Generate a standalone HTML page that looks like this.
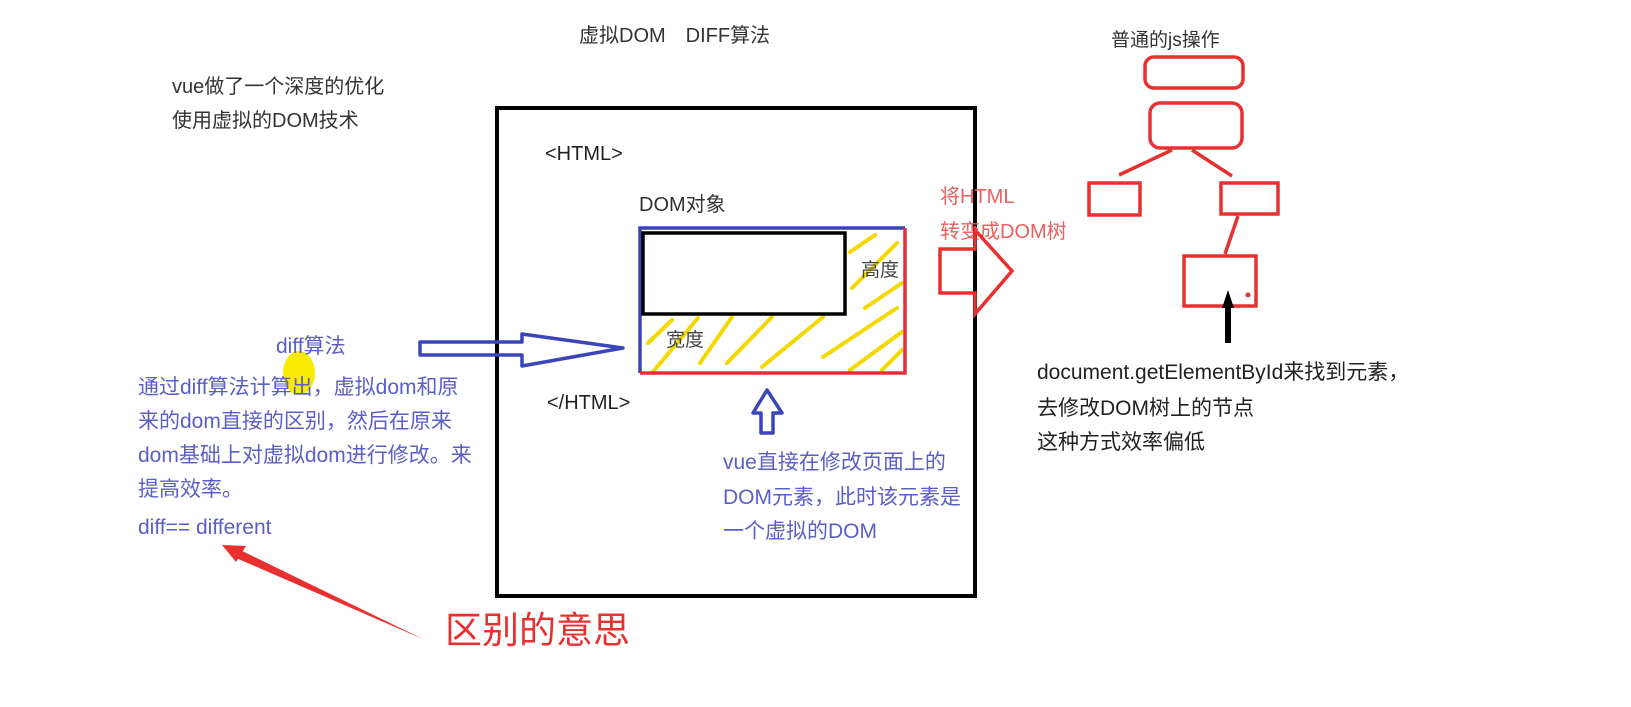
<!DOCTYPE html>
<html><head><meta charset="utf-8"><style>
html,body{margin:0;padding:0;background:#fff;}
svg{display:block;}
text{font-family:"Liberation Sans","Noto Sans CJK SC",sans-serif;}
</style></head><body>
<svg width="1631" height="707" viewBox="0 0 1631 707" xmlns="http://www.w3.org/2000/svg">
<!-- titles -->
<text x="579" y="42" font-size="20" fill="#333">虚拟DOM　DIFF算法</text>
<text x="172" y="93" font-size="20" fill="#333">vue做了一个深度的优化</text>
<text x="172" y="127" font-size="20" fill="#333">使用虚拟的DOM技术</text>

<!-- big box -->
<rect x="497" y="108" width="478" height="488" fill="none" stroke="#000" stroke-width="4"/>
<text x="545" y="160" font-size="20" fill="#222">&lt;HTML&gt;</text>
<text x="547" y="409" font-size="20" fill="#222">&lt;/HTML&gt;</text>
<text x="639" y="211" font-size="20" fill="#333">DOM对象</text>

<!-- yellow hatch -->
<g stroke="#f5d800" stroke-width="4" stroke-linecap="round">
<line x1="850" y1="252" x2="875" y2="235"/>
<line x1="852" y1="288" x2="897" y2="243"/>
<line x1="865" y1="308" x2="902" y2="283"/>
<line x1="823" y1="357" x2="897" y2="308"/>
<line x1="850" y1="370" x2="902" y2="332"/>
<line x1="882" y1="370" x2="902" y2="350"/>
<line x1="648" y1="343" x2="672" y2="320"/>
<line x1="652" y1="373" x2="698" y2="318"/>
<line x1="700" y1="363" x2="732" y2="317"/>
<line x1="727" y1="363" x2="772" y2="317"/>
<line x1="762" y1="367" x2="823" y2="317"/>
</g>
<!-- blue rect -->
<path d="M640 373 L640 228 L905 228" fill="none" stroke="#3a45b8" stroke-width="3.5"/>
<path d="M640 373 L905 373 L905 228" fill="none" stroke="#e0303a" stroke-width="3.5"/>
<rect x="643" y="233" width="202" height="81" fill="#fff" stroke="#000" stroke-width="3.5"/>
<text x="861" y="276" font-size="19" fill="#444">高度</text>
<text x="666" y="346" font-size="19" fill="#444">宽度</text>

<!-- blue right arrow -->
<path d="M420 342 L522 342 L522 334 L623 348 L522 366 L522 355 L420 355 Z" fill="none" stroke="#3a45b8" stroke-width="3.5" stroke-linejoin="round"/>
<!-- blue up arrow -->
<path d="M767 390 L782 413 L773 413 L773 433 L761 433 L761 413 L753 413 Z" fill="none" stroke="#3a45b8" stroke-width="3.5" stroke-linejoin="round"/>
<g font-size="21" fill="#5a5fc8">
<text x="723" y="469">vue直接在修改页面上的</text>
<text x="723" y="504">DOM元素，此时该元素是</text>
<text x="723" y="538">一个虚拟的DOM</text>
</g>

<!-- left blue text -->
<ellipse cx="299" cy="373" rx="16" ry="22" fill="#f8ea00"/>
<g font-size="21" fill="#5a5fc8">
<text x="276" y="353">diff算法</text>
<text x="138" y="394">通过diff算法计算出，虚拟dom和原</text>
<text x="138" y="428">来的dom直接的区别，然后在原来</text>
<text x="138" y="462">dom基础上对虚拟dom进行修改。来</text>
<text x="138" y="496">提高效率。</text>
<text x="138" y="534">diff== different</text>
</g>
<!-- red arrow -->
<path d="M425 640 L236 558 L240 550 Z" fill="#e83030"/>
<path d="M222 545 L246 546 L236 562 Z" fill="#e83030"/>
<text x="445" y="643" font-size="37" fill="#e83030">区别的意思</text>

<!-- red convert arrow -->
<text x="940" y="203" font-size="20" fill="#e86060">将HTML</text>
<text x="940" y="238" font-size="20" fill="#e86060">转变成DOM树</text>
<path d="M940 249 L975 249 L975 230 L1012 271 L975 314 L975 293 L940 293 Z" fill="none" stroke="#e83030" stroke-width="3.5"/>

<!-- tree -->
<text x="1111" y="46" font-size="19" fill="#333">普通的js操作</text>
<g fill="none" stroke="#e83030" stroke-width="3.5">
<rect x="1145" y="57" width="98" height="31" rx="9"/>
<rect x="1150" y="103" width="92" height="45" rx="10"/>
<line x1="1172" y1="150" x2="1119" y2="175"/>
<line x1="1192" y1="150" x2="1232" y2="176"/>
<rect x="1089" y="183" width="51" height="32"/>
<rect x="1221" y="183" width="57" height="31"/>
<line x1="1238" y1="216" x2="1225" y2="254"/>
<rect x="1184" y="256" width="72" height="50"/>
</g>
<circle cx="1248" cy="295" r="2.5" fill="#e83030"/>
<path d="M1228 290 L1234 308 L1231 308 L1231 343 L1225 343 L1225 308 L1222 308 Z" fill="#000"/>
<g font-size="21" fill="#222">
<text x="1037" y="379">document.getElementById来找到元素，</text>
<text x="1037" y="415">去修改DOM树上的节点</text>
<text x="1037" y="449">这种方式效率偏低</text>
</g>
</svg>
</body></html>
